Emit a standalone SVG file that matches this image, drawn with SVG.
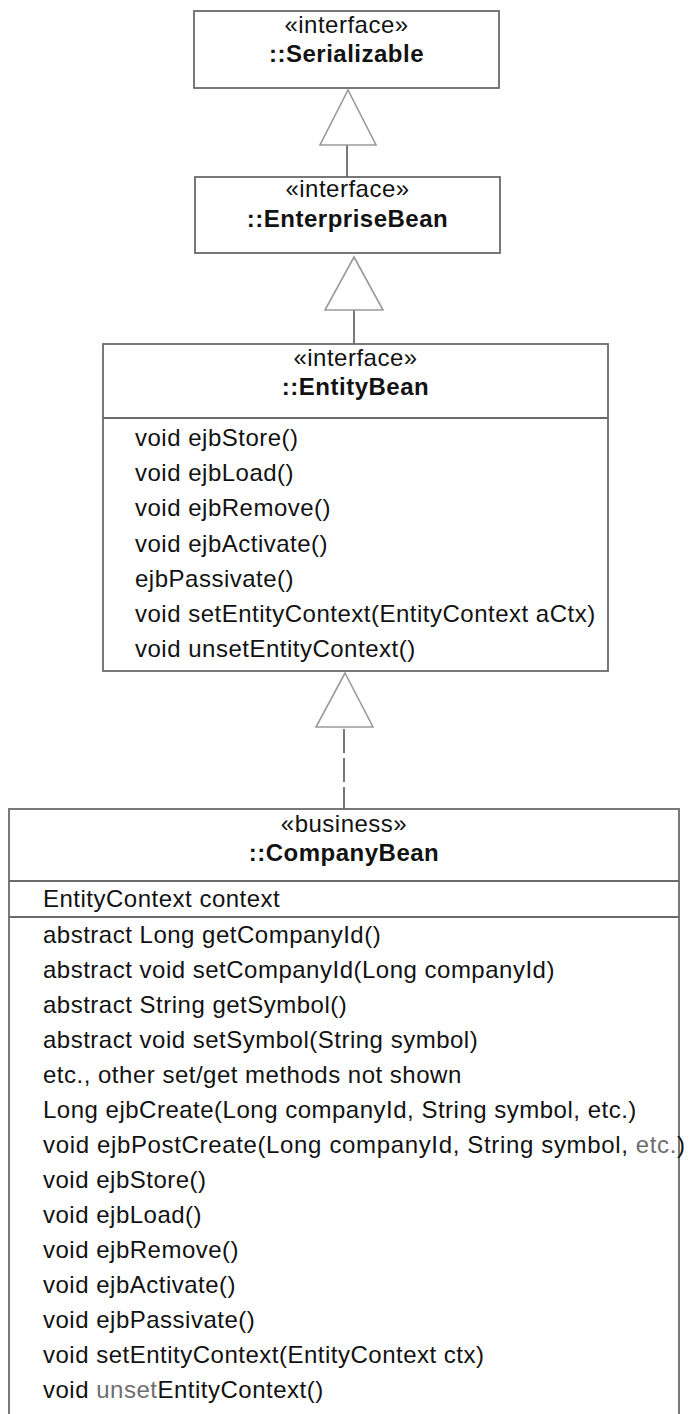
<svg xmlns="http://www.w3.org/2000/svg" width="691" height="1414" viewBox="0 0 691 1414">
  <style>
    .box { fill: #ffffff; stroke: #6a6a6a; stroke-width: 1.8; }
    .sep { stroke: #6a6a6a; stroke-width: 1.8; }
    .tri { fill: #ffffff; stroke: #9a9a9a; stroke-width: 1.6; stroke-linejoin: miter; }
    .link { stroke: #555555; stroke-width: 1.6; fill: none; }
    .dash { stroke-dasharray: 24 5; }
    text { font-family: "Liberation Sans", Arial, Helvetica, sans-serif; font-size: 24px; letter-spacing: 0.5px; fill: #121212; }
    .st { text-anchor: middle; }
    .nm { text-anchor: middle; font-weight: bold; }
    .wide { letter-spacing: 0.65px; }
    .faint { fill: #6e6e6e; }
  </style>

  <rect width="691" height="1414" fill="#ffffff"/>

  <!-- generalization / realization connectors -->
  <g id="connectors">
    <line class="link" x1="347" y1="145" x2="347" y2="177"/>
    <polygon class="tri" points="348,90 376,145 320,145"/>
    <line class="link" x1="354" y1="310" x2="354" y2="344"/>
    <polygon class="tri" points="354,257 383,310 325,310"/>
    <line class="link dash" x1="344" y1="729" x2="344" y2="809"/>
    <polygon class="tri" points="345,673 373,727 316,727"/>
  </g>

  <g id="serializable">
    <rect class="box" x="194" y="11" width="305" height="77"/>
    <text class="st" x="346.5" y="33">«interface»</text>
    <text class="nm" x="346.5" y="62">::Serializable</text>
  </g>

  <g id="enterprise-bean">
    <rect class="box" x="195" y="177" width="305" height="76"/>
    <text class="st" x="347.5" y="197">«interface»</text>
    <text class="nm" x="347.5" y="227">::EnterpriseBean</text>
  </g>

  <g id="entity-bean">
    <rect class="box" x="103" y="344" width="505" height="327"/>
    <line class="sep" x1="103" y1="418" x2="608" y2="418"/>
    <text class="st" x="355.5" y="366">«interface»</text>
    <text class="nm" x="355.5" y="395">::EntityBean</text>
    <text x="135" y="446">void ejbStore()</text>
    <text x="135" y="481.2">void ejbLoad()</text>
    <text x="135" y="516.4">void ejbRemove()</text>
    <text x="135" y="551.6">void ejbActivate()</text>
    <text x="135" y="586.8">ejbPassivate()</text>
    <text x="135" y="622">void setEntityContext(EntityContext aCtx)</text>
    <text x="135" y="657.2">void unsetEntityContext()</text>
  </g>

  <g id="company-bean">
    <rect class="box" x="9" y="809" width="670" height="620"/>
    <line class="sep" x1="9" y1="881" x2="679" y2="881"/>
    <line class="sep" x1="9" y1="917" x2="679" y2="917"/>
    <text class="st" x="344" y="832">«business»</text>
    <text class="nm" x="344" y="861">::CompanyBean</text>
    <text x="43" y="907">EntityContext context</text>
    <text x="43" y="943">abstract Long getCompanyId()</text>
    <text x="43" y="978">abstract void setCompanyId(Long companyId)</text>
    <text x="43" y="1013">abstract String getSymbol()</text>
    <text x="43" y="1048">abstract void setSymbol(String symbol)</text>
    <text x="43" y="1083">etc., other set/get methods not shown</text>
    <text x="43" y="1118">Long ejbCreate(Long companyId, String symbol, etc.)</text>
    <text class="wide" x="43" y="1153">void ejbPostCreate(Long companyId, String symbol, <tspan class="faint">etc.</tspan>)</text>
    <text x="43" y="1188">void ejbStore()</text>
    <text x="43" y="1223">void ejbLoad()</text>
    <text x="43" y="1258">void ejbRemove()</text>
    <text x="43" y="1293">void ejbActivate()</text>
    <text x="43" y="1328">void ejbPassivate()</text>
    <text x="43" y="1363">void setEntityContext(EntityContext ctx)</text>
    <text x="43" y="1398">void <tspan class="faint">unset</tspan>EntityContext()</text>
  </g>
</svg>
